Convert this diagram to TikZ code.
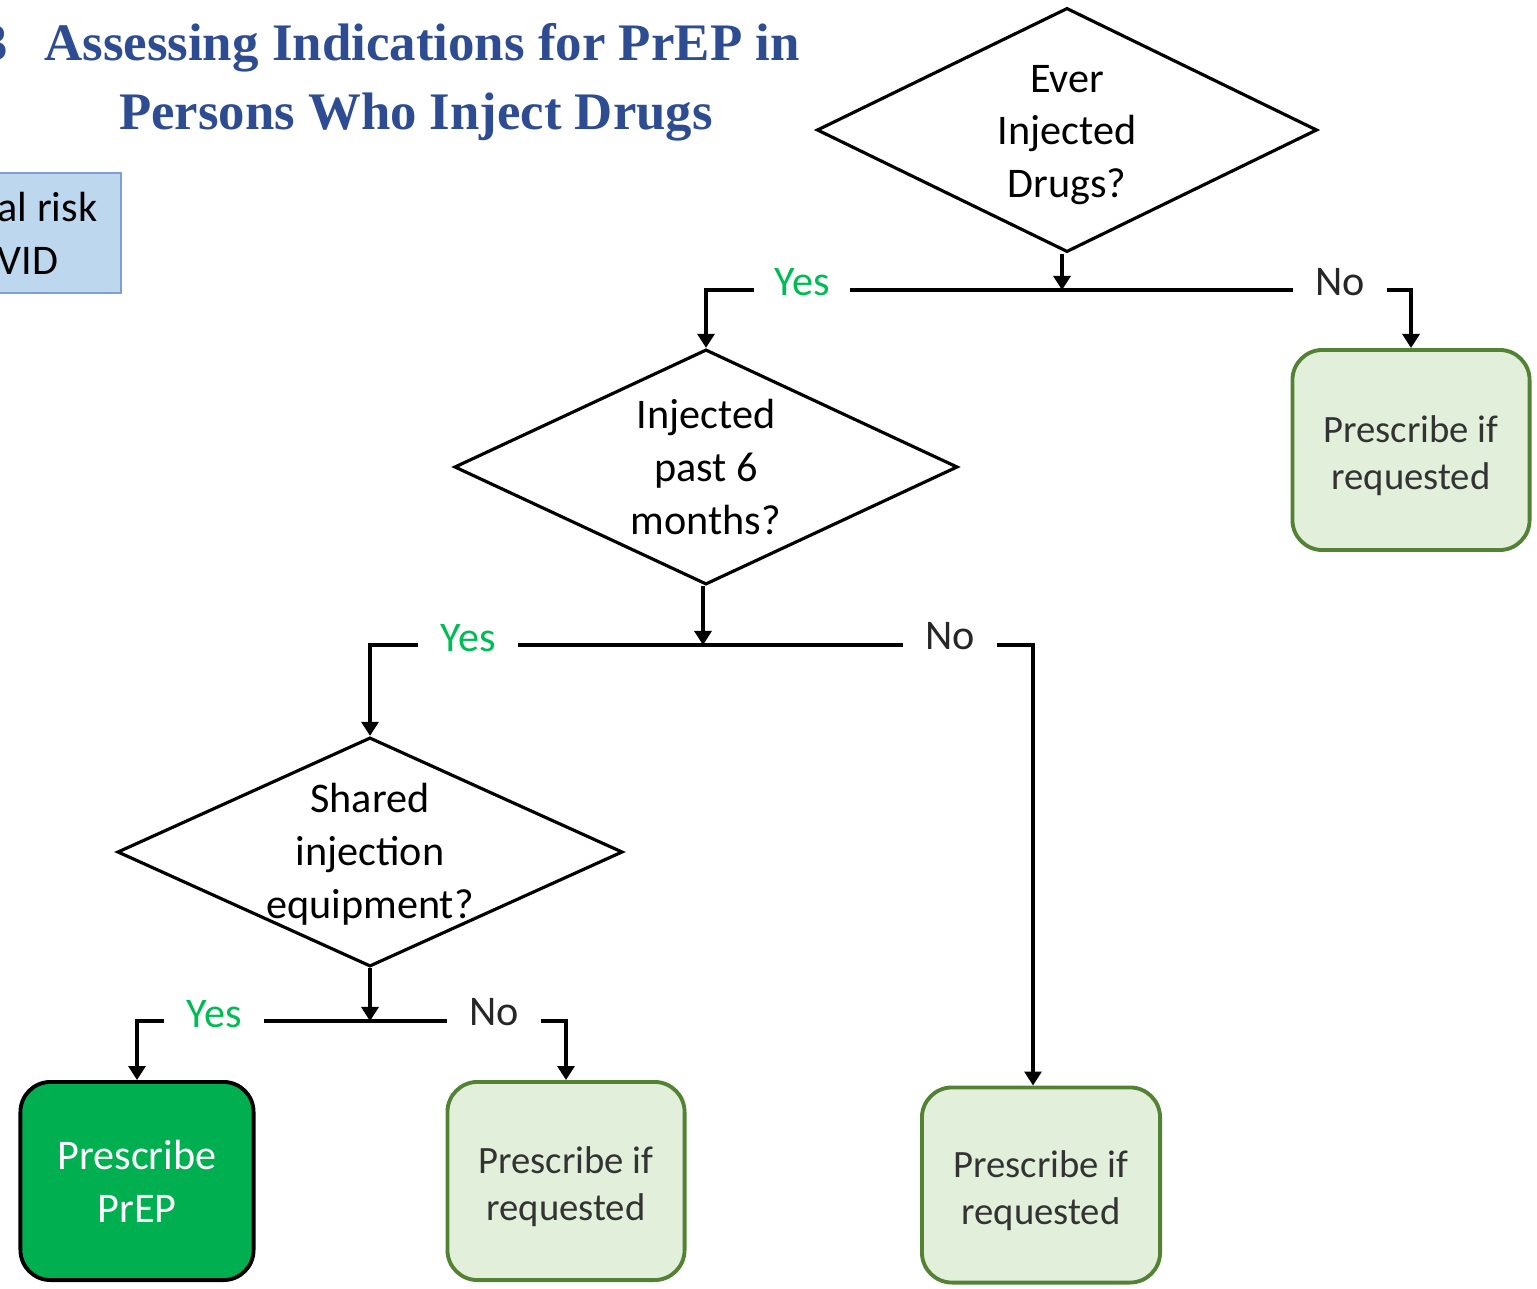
\documentclass[tikz,border=0pt]{standalone}
\usepackage{fontspec}
\setmainfont{Carlito}
\newfontfamily\titlefont{Liberation Serif}
\usetikzlibrary{shapes.geometric}
\usetikzlibrary{
        arrows.meta,
    }
\definecolor{prepgreen}{RGB}{0,176,80}
\definecolor{yesgreen}{RGB}{0,188,84}
\definecolor{palegreen}{RGB}{226,239,218}
\definecolor{olivegreen}{RGB}{84,130,53}
\definecolor{titleblue}{RGB}{46,76,146}
\definecolor{riskblue}{RGB}{189,215,238}
\definecolor{riskedge}{RGB}{128,158,210}

\tikzset{
    decision/.style={diamond, draw, line width=0.9pt, inner sep=0pt},
    qtext/.style={align=center, inner sep=0pt},
    outcome/.style={rectangle, rounded corners=0.3cm, draw=olivegreen, fill=palegreen, line width=1.1pt,
        align=center, text=black!80, font=\fontsize{11}{13.5}\selectfont},
    branch/.style={fill=white, inner xsep=0.22cm, inner ysep=1pt},
    flow/.style={line width=0.9pt, -{Triangle[width=0.17cm,length=0.14cm]}},
    titletext/.style={font=\titlefont\bfseries\fontsize{15}{18}\selectfont, text=titleblue, inner sep=0pt},
}

\begin{document}
\begin{tikzpicture}[x=0.01cm, y=-0.01cm, font=\fontsize{12}{15}\selectfont]
        \useasboundingbox (0,0) rectangle (1537,1289);
        \clip (0,0) rectangle (1537,1289);
        \begin{scope}
            \node[titletext, anchor=base east] (fignum) at (9,61) {3};
            \node[titletext, anchor=base] (title1) at (422,61) {\resizebox{7.55cm}{\height}{Assessing Indications for PrEP in}};
            \node[titletext, anchor=base] (title2) at (416,130) {\resizebox{5.93cm}{\height}{Persons Who Inject Drugs}};
            \node[draw=riskedge, fill=riskblue, line width=0.8pt, minimum width=2.2cm, minimum height=1.2cm] (risk) at (11,233) {};
            \node[anchor=west, align=left, inner sep=0pt] (risktext) at (-3,233) {al risk\\VID};
        \end{scope}
        \begin{scope}
            \node[decision, minimum width=5cm, minimum height=2.44cm] (d1) at (1067,130) {};
            \node[qtext] (q1) at ([yshift=-0.05cm]d1) {Ever\\Injected\\Drugs?};
            \node[decision, minimum width=5.03cm, minimum height=2.35cm] (d2) at (706,467) {};
            \node[qtext] (q2) at (d2) {Injected\\past 6\\months?};
            \node[decision, minimum width=5.05cm, minimum height=2.29cm] (d3) at (370,852) {};
            \node[qtext] (q3) at ([yshift=-0.02cm]d3) {Shared\\injection\\equipment?};

            \node[outcome, minimum width=2.37cm, minimum height=2cm] (r1) at (1411,450) {\rule{0pt}{11pt}Prescribe if\\requested};
            \node[outcome, draw=black, fill=prepgreen, text=white, font=\fontsize{12}{15}\selectfont, minimum width=2.33cm, minimum height=1.98cm] (p1) at (137,1181) {Prescribe\\PrEP};
            \node[outcome, minimum width=2.37cm, minimum height=1.98cm] (r2) at (566,1181) {\rule{0pt}{11pt}Prescribe if\\requested};
            \node[outcome, minimum width=2.38cm, minimum height=1.95cm] (r3) at (1041,1185) {\rule{0pt}{11pt}Prescribe if\\requested};

            \coordinate (j1) at (1062,290);
            \coordinate (j2) at (703,645);
            \coordinate (j3) at (370,1021);

            \draw[flow] (j1 |- d1.south) -- (j1);
            \draw[flow] (j1) -| (d2.north);
            \draw[flow] (j1) -| (r1.north);
            \draw[flow] (j2 |- d2.south) -- (j2);
            \draw[flow] (j2) -| (d3.north);
            \draw[flow] (j2) -| ([xshift=-0.08cm]r3.north);
            \draw[flow] (d3.south) -- (j3);
            \draw[flow] (j3) -| (p1.north);
            \draw[flow] (j3) -| (r2.north);

            \node[branch, text=yesgreen, inner xsep=0.2cm] (yes1) at (802,282) {Yes};
            \node[branch, text=black!85] (no1) at (1340,282) {No};
            \node[branch, text=yesgreen] (yes2) at (468,638) {Yes};
            \node[branch, text=black!85] (no2) at (950,636) {No};
            \node[branch, text=yesgreen] (yes3) at (214,1014) {Yes};
            \node[branch, text=black!85] (no3) at (494,1012) {No};
        \end{scope}
    \end{tikzpicture}
\end{document}
